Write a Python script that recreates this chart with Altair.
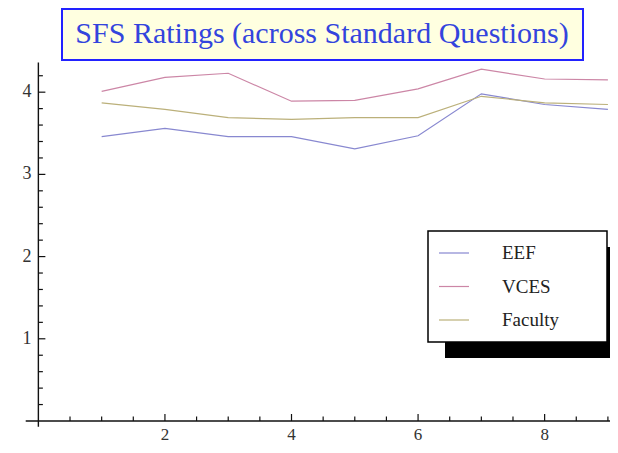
import altair as alt
import pandas as pd

# ---- data ----
x_vals = [1, 2, 3, 4, 5, 6, 7, 8, 9]
eef = [3.46, 3.56, 3.46, 3.46, 3.31, 3.47, 3.98, 3.85, 3.79]
vces = [4.01, 4.18, 4.23, 3.89, 3.90, 4.04, 4.28, 4.16, 4.15]
faculty = [3.87, 3.79, 3.69, 3.67, 3.69, 3.69, 3.95, 3.87, 3.85]
series_names = ["EEF", "VCES", "Faculty"]
series_colors = ["#8888d0", "#cc86a6", "#bbb07a"]
title_text = "SFS Ratings (across Standard Questions)"

x_major = [2, 4, 6, 8]
x_minor = [0.5, 1, 1.5, 2.5, 3, 3.5, 4.5, 5, 5.5, 6.5, 7, 7.5, 8.5, 9]
y_major = [1, 2, 3, 4]
y_minor = [0.2, 0.4, 0.6, 0.8, 1.2, 1.4, 1.6, 1.8, 2.2, 2.4, 2.6, 2.8,
           3.2, 3.4, 3.6, 3.8, 4.2]
x_axis_span = [-0.2, 9.3]
y_axis_span = [-0.07, 4.36]
x_domain = [-0.48, 9.033]
y_domain = [-0.292, 5.024]

SERIF = "Liberation Serif"

rows = []
for name, vals in zip(series_names, [eef, vces, faculty]):
    for x, v in zip(x_vals, vals):
        rows.append({"x": x, "value": v, "series": name})
df = pd.DataFrame(rows)

xs = alt.Scale(domain=x_domain, nice=False, zero=False)
ys = alt.Scale(domain=y_domain, nice=False, zero=False)
one = alt.Data(values=[{}])

# decorations
shadow = alt.Chart(one).mark_rect(color="black").encode(
    x=alt.value(437), x2=alt.value(620), y=alt.value(239), y2=alt.value(350))
legbox = alt.Chart(one).mark_rect(fill="white", stroke="black", strokeWidth=1.5).encode(
    x=alt.value(420), x2=alt.value(599), y=alt.value(223), y2=alt.value(334))
titlebox = alt.Chart(one).mark_rect(fill="#ffffe0", stroke="#2222ff", strokeWidth=2).encode(
    x=alt.value(54), x2=alt.value(575), y=alt.value(1), y2=alt.value(52))
title = alt.Chart(pd.DataFrame({"t": [title_text]})).mark_text(
    font=SERIF, fontSize=30, color="#3344dd", baseline="middle", align="center").encode(
    x=alt.value(314), y=alt.value(26), text="t:N")

# axes
xaxis = alt.Chart(pd.DataFrame({"a": [x_axis_span[0]], "b": [x_axis_span[1]], "y": [0]})).mark_rule(
    color="#111", strokeWidth=1.4).encode(
    x=alt.X("a:Q", scale=xs, axis=None), x2="b:Q", y=alt.Y("y:Q", scale=ys, axis=None))
yaxis = alt.Chart(pd.DataFrame({"a": [y_axis_span[0]], "b": [y_axis_span[1]], "x": [0]})).mark_rule(
    color="#111", strokeWidth=1.4).encode(
    y=alt.Y("a:Q", scale=ys, axis=None), y2="b:Q", x=alt.X("x:Q", scale=xs, axis=None))

def yticks(vals, length):
    d = pd.DataFrame({"v": vals, "z": [0] * len(vals)})
    return alt.Chart(d).mark_rule(color="#111", strokeWidth=1.2, x2Offset=length).encode(
        x=alt.X("z:Q", scale=xs, axis=None), x2="z:Q", y=alt.Y("v:Q", scale=ys, axis=None))

def xticks(vals, length):
    d = pd.DataFrame({"v": vals, "z": [0] * len(vals)})
    return alt.Chart(d).mark_rule(color="#111", strokeWidth=1.2, y2Offset=-length).encode(
        y=alt.Y("z:Q", scale=ys, axis=None), y2="z:Q", x=alt.X("v:Q", scale=xs, axis=None))

ylab = alt.Chart(pd.DataFrame({"v": y_major, "z": [0] * 4, "t": [str(v) for v in y_major]})).mark_text(
    font=SERIF, fontSize=18, color="#333", align="right", baseline="middle", dx=-7).encode(
    x=alt.X("z:Q", scale=xs, axis=None), y=alt.Y("v:Q", scale=ys, axis=None), text="t:N")
xlab = alt.Chart(pd.DataFrame({"v": x_major, "z": [0] * 4, "t": [str(v) for v in x_major]})).mark_text(
    font=SERIF, fontSize=17, color="#333", align="center", baseline="top", dy=6).encode(
    x=alt.X("v:Q", scale=xs, axis=None), y=alt.Y("z:Q", scale=ys, axis=None), text="t:N")

lines = alt.Chart(df).mark_line(strokeWidth=1.2).encode(
    x=alt.X("x:Q", scale=xs, axis=None),
    y=alt.Y("value:Q", scale=ys, axis=None),
    color=alt.Color("series:N", scale=alt.Scale(domain=series_names, range=series_colors),
                    legend=alt.Legend(orient="none", legendX=430, legendY=229, direction="vertical",
                                      title=None, symbolType="stroke", symbolSize=900,
                                      symbolStrokeWidth=1.2, labelFont=SERIF, labelFontSize=19,
                                      labelColor="#222", labelOffset=32, rowPadding=7.5, padding=0)),
)

chart = alt.layer(
    shadow, legbox, titlebox, title, xaxis, yaxis,
    yticks(y_major, 7), yticks(y_minor, 4.5), xticks(x_major, 7), xticks(x_minor, 4.5),
    ylab, xlab, lines,
).properties(
    width=602, height=437, padding=0, autosize=alt.AutoSizeParams(type="none"),
    background="white",
).configure_view(stroke=None)

chart.save("out.html", embed_options={"renderer": "svg", "actions": False})
